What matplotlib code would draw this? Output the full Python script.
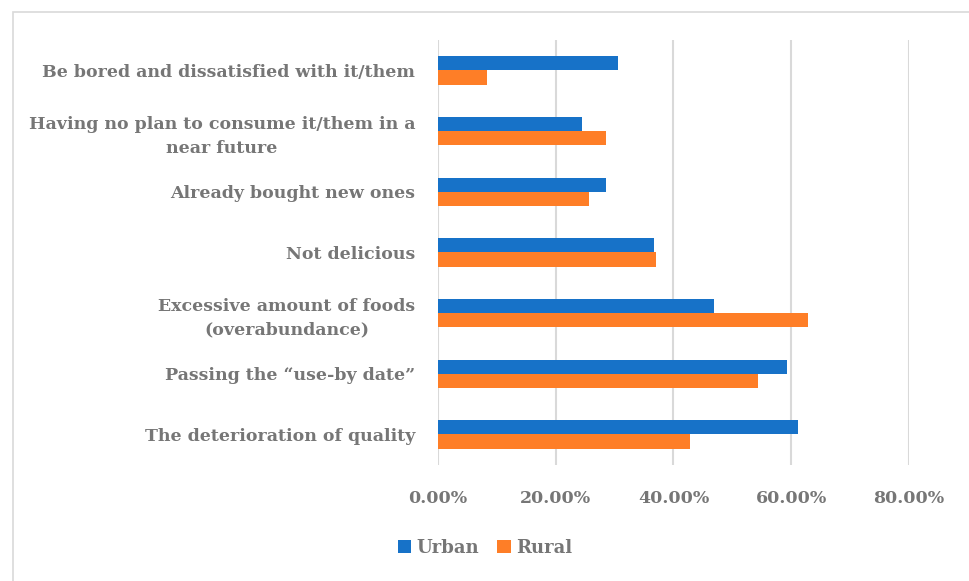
import matplotlib.pyplot as plt
import numpy as np
from matplotlib.patches import Rectangle
from matplotlib.ticker import PercentFormatter

# categories listed bottom to top (barh draws the first one at the bottom)
categories = [
    "The deterioration of quality",
    "Passing the \u201cuse-by date\u201d",
    "Excessive amount of foods\n(overabundance)",
    "Not delicious",
    "Already bought new ones",
    "Having no plan to consume it/them in a\nnear future",
    "Be bored and dissatisfied with it/them",
]
urban = [0.612, 0.592, 0.469, 0.367, 0.285, 0.245, 0.306]
rural = [0.428, 0.543, 0.629, 0.371, 0.256, 0.285, 0.084]
xticks = [0.0, 0.2, 0.4, 0.6, 0.8]


def main():
    plt.close("all")
    text_color = "#767676"
    plt.rcParams["font.family"] = ["DejaVu Serif"]
    plt.rcParams["font.weight"] = "bold"

    fig = plt.figure(figsize=(9.7, 5.81), dpi=100)
    ax = fig.add_axes([0.4515, 0.2, 0.4856, 0.731])

    y = np.arange(len(categories))
    h = 0.235
    ax.barh(y + h / 2, urban, height=h, color="#1772c8", label="Urban", zorder=3)
    ax.barh(y - h / 2, rural, height=h, color="#fe7e27", label="Rural", zorder=3)

    ax.set_xlim(0, 0.8)
    ax.set_ylim(-0.5, len(categories) - 0.5)
    ax.set_xticks(xticks)
    ax.xaxis.set_major_formatter(PercentFormatter(1.0, decimals=2))
    ax.set_yticks(y)
    ax.set_yticklabels(categories, multialignment="center", linespacing=1.5)
    ax.tick_params(axis="both", length=0, labelsize=12.5, labelcolor=text_color)
    ax.tick_params(axis="x", pad=18)
    ax.tick_params(axis="y", pad=16.5)

    ax.grid(axis="x", color="#d9d9d9", linewidth=1.5, zorder=0)
    for s in ax.spines.values():
        s.set_visible(False)

    # chart border
    fig.patches.append(Rectangle((13 / 970, -0.01), 1.0, 1 - 12 / 581 + 0.01,
                                 transform=fig.transFigure, fill=False,
                                 edgecolor="#d9d9d9", linewidth=1.2))

    fig.legend(loc="center", bbox_to_anchor=(0.5, 1 - 548 / 581), ncol=2,
               frameon=False, fontsize=13, labelcolor=text_color,
               handlelength=0.75, handleheight=0.75, handletextpad=0.3,
               columnspacing=1.0)

    fig.savefig("out.png", dpi=100)


if __name__ == "__main__":
    main()
